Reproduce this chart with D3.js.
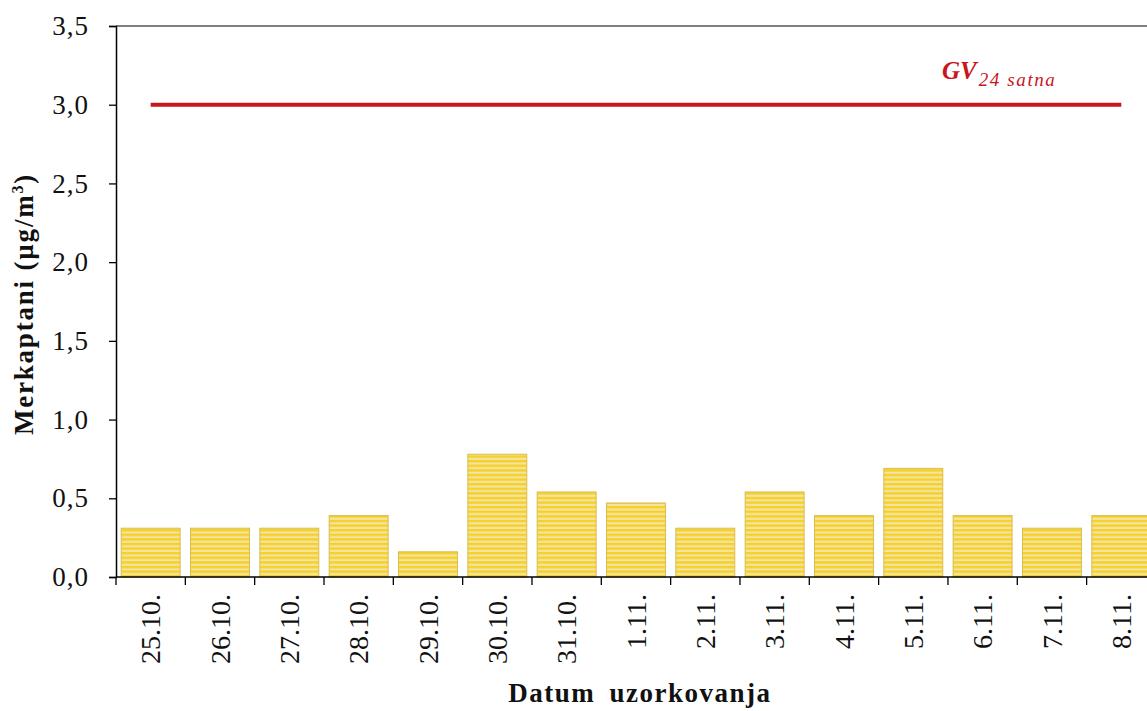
<!DOCTYPE html>
<html>
<head>
<meta charset="utf-8">
<script src="https://cdn.jsdelivr.net/npm/d3@7"></script>
<style>
  html, body { margin: 0; padding: 0; background: #fff; }
  svg { display: block; }
</style>
</head>
<body>
<svg id="chart" width="1147" height="711"></svg>
<script>
const categories = ["25.10.", "26.10.", "27.10.", "28.10.", "29.10.", "30.10.", "31.10.", "1.11.", "2.11.", "3.11.", "4.11.", "5.11.", "6.11.", "7.11.", "8.11."];
const values = [0.31, 0.31, 0.31, 0.39, 0.16, 0.78, 0.54, 0.47, 0.31, 0.54, 0.39, 0.69, 0.39, 0.31, 0.39];
const limitValue = 3.0;
const yTicks = [0, 0.5, 1.0, 1.5, 2.0, 2.5, 3.0, 3.5];
const yTitle = "Merkaptani (µg/m";
const xTitle = "Datum uzorkovanja";
const limitLabelMain = "GV";
const limitLabelSub = "24 satna";

(function () {
const W = 1147;
const FONT = "'Liberation Serif'";
const mLeft = 116, mTop = 26, mBottom = 577;
const step = 69.33;
const mRight = mLeft + step * categories.length;

const svg = d3.select("#chart");

// stripe pattern
const defs = svg.append("defs");
const pat = defs.append("pattern")
  .attr("id", "stripes")
  .attr("patternUnits", "userSpaceOnUse")
  .attr("width", 10).attr("height", 4.6);
pat.append("rect").attr("width", 10).attr("height", 4.6).attr("fill", "#f2e4a4");
pat.append("rect").attr("y", 0).attr("width", 10).attr("height", 2.4).attr("fill", "#f7d026");

const x = d3.scaleBand().domain(categories).range([mLeft, mRight]).paddingInner(0.15).paddingOuter(0.075);
const y = d3.scaleLinear().domain([0, 3.5]).range([mBottom, mTop]);

// bars
svg.append("g").selectAll("rect").data(values).join("rect")
  .attr("x", (d, i) => x(categories[i]))
  .attr("y", d => y(d))
  .attr("width", x.bandwidth())
  .attr("height", d => y(0) - y(d))
  .attr("fill", "url(#stripes)")
  .attr("stroke", "#d9bd4a")
  .attr("stroke-width", 1);

// frame top
svg.append("line").attr("x1", mLeft).attr("x2", W).attr("y1", y(3.5)).attr("y2", y(3.5))
  .attr("stroke", "#000").attr("stroke-width", 1.2);

// y axis
const yAxis = d3.axisLeft(y).tickValues(yTicks).tickSize(7).tickPadding(20)
  .tickFormat(d => d3.format(".1f")(d).replace(".", ","));
const gy = svg.append("g").attr("transform", `translate(${mLeft},0)`).call(yAxis);
gy.select(".domain").attr("stroke", "#000").attr("stroke-width", 1.5);
gy.selectAll(".tick line").attr("stroke", "#000").attr("stroke-width", 1.3);
gy.selectAll(".tick text").style("font-family", FONT).style("font-size", "27px")
  .style("letter-spacing", "1px").attr("fill", "#111");

// x axis
const xAxis = d3.axisBottom(x).tickSize(0).tickFormat("");
const gx = svg.append("g").attr("transform", `translate(0,${mBottom})`).call(xAxis);
gx.select(".domain").attr("d", `M${mLeft},0H${W}`).attr("stroke", "#000").attr("stroke-width", 1.5);
const boundaries = d3.range(categories.length + 1).map(i => mLeft + i * x.step());
gx.append("g").selectAll("line").data(boundaries).join("line")
  .attr("x1", d => d).attr("x2", d => d).attr("y1", 0).attr("y2", 8)
  .attr("stroke", "#000").attr("stroke-width", 1.3);
svg.append("g").selectAll("text").data(categories).join("text")
  .attr("transform", d => `translate(${x(d) + x.bandwidth() / 2},594) rotate(-90)`)
  .attr("text-anchor", "end")
  .attr("dy", "0.35em")
  .style("font-family", FONT).style("font-size", "28px")
  .attr("fill", "#111")
  .text(d => d);

// limit line
svg.append("line")
  .attr("x1", x(categories[0]) + x.bandwidth() / 2)
  .attr("x2", x(categories[categories.length - 1]) + x.bandwidth() / 2)
  .attr("y1", y(limitValue)).attr("y2", y(limitValue))
  .attr("stroke", "#c8161d").attr("stroke-width", 4);

// limit label
const lbl = svg.append("text").attr("x", 942).attr("y", 79)
  .attr("fill", "#c8161d").style("font-family", FONT).style("font-style", "italic");
lbl.append("tspan").style("font-weight", "bold").style("font-size", "25px").text(limitLabelMain);
lbl.append("tspan").style("font-size", "19px").style("letter-spacing", "1.6px")
  .attr("dy", 7).attr("dx", 2).text(limitLabelSub);

// y title
const yt = svg.append("text")
  .attr("transform", `translate(33,304) rotate(-90)`)
  .attr("text-anchor", "middle")
  .style("font-family", FONT).style("font-weight", "bold").style("font-size", "27px")
  .style("letter-spacing", "1.8px")
  .attr("fill", "#111");
yt.append("tspan").text(yTitle);
yt.append("tspan").style("font-size", "16px").attr("dy", -10).text("3");
yt.append("tspan").attr("dy", 10).text(")");

// x title
svg.append("text").attr("x", 640).attr("y", 702)
  .attr("text-anchor", "middle")
  .style("font-family", FONT).style("font-weight", "bold").style("font-size", "27px")
  .style("letter-spacing", "1.5px").style("word-spacing", "6px")
  .attr("fill", "#111")
  .text(xTitle);
})();
</script>
</body>
</html>
